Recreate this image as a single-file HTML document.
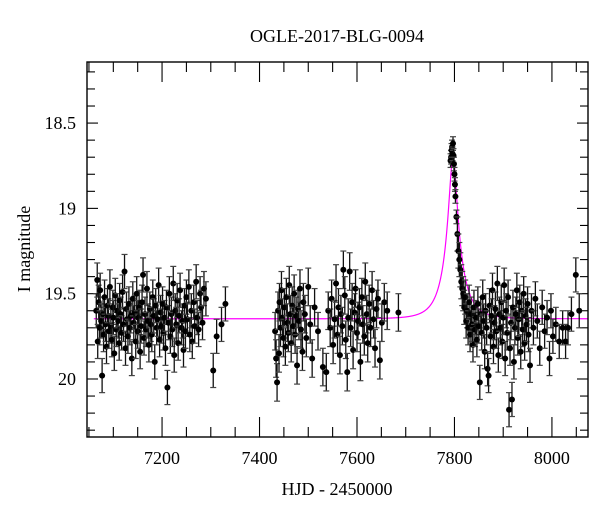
<!DOCTYPE html>
<html><head><meta charset="utf-8"><style>
html,body{margin:0;padding:0;background:#fff;}
svg{display:block;font-family:"Liberation Serif",serif;}
</style></head><body>
<svg id="chart" width="600" height="512" viewBox="0 0 600 512" xmlns="http://www.w3.org/2000/svg">
<text x="337" y="42" text-anchor="middle" font-size="18">OGLE-2017-BLG-0094</text>
<text x="337" y="495" text-anchor="middle" font-size="18">HJD - 2450000</text>
<text transform="translate(30,249) rotate(-90)" text-anchor="middle" font-size="18">I magnitude</text>
<g id="axes"></g>
<g id="model"></g>
<g id="pts"></g>
<rect x="87" y="62" width="501" height="375" fill="none" stroke="#000" stroke-width="1.4"/>
</svg>
<script>
const xTicks=[7200,7400,7600,7800,8000];
const yTicks=[18.5,19,19.5,20];
const yTickLabels=["18.5","19","19.5","20"];
const times1=[7065,7067,7068,7070,7072,7073,7075,7077,7079,7080,7082,7084,7086,7088,7090,7091,7093,7095,7097,7099,7100,7102,7104,7106,7108,7110,7112,7113,7115,7117,7119,7121,7123,7125,7127,7128,7130,7132,7134,7136,7138,7140,7142,7144,7146,7148,7150,7151,7153,7155,7157,7159,7161,7163,7165,7167,7169,7171,7173,7175,7177,7179,7181,7183,7185,7187,7189,7191,7193,7195,7197,7199,7201,7203,7205,7207,7209,7211,7213,7215,7217,7219,7221,7223,7225,7227,7229,7231,7233,7235,7237,7240,7242,7244,7246,7248,7250,7252,7255,7257,7260,7262,7265,7267,7270,7272,7275,7278,7280,7283,7286,7290,7305,7312,7322,7330];
const mags1=[19.60,19.42,19.78,19.55,19.70,19.48,19.66,19.98,19.62,19.74,19.52,19.68,19.81,19.57,19.63,19.72,19.46,19.69,19.77,19.58,19.64,19.85,19.51,19.71,19.60,19.66,19.79,19.54,19.62,19.73,19.49,19.68,19.37,19.82,19.59,19.65,19.75,19.56,19.70,19.63,19.88,19.53,19.67,19.61,19.78,19.50,19.72,19.64,19.58,19.84,19.69,19.55,19.39,19.76,19.62,19.71,19.47,19.66,19.80,19.59,19.68,19.74,19.52,19.63,19.90,19.57,19.70,19.65,19.45,19.77,19.61,19.69,19.56,19.73,19.64,19.82,19.58,20.05,19.67,19.50,19.75,19.62,19.71,19.44,19.86,19.60,19.68,19.54,19.79,19.63,19.48,19.70,19.66,19.83,19.57,19.72,19.52,19.65,19.46,19.74,19.60,19.78,19.55,19.69,19.43,19.64,19.71,19.50,19.58,19.67,19.47,19.53,19.95,19.75,19.68,19.56];
const times2=[7432,7434,7436,7438,7440,7441,7443,7445,7447,7449,7451,7453,7455,7457,7459,7461,7463,7465,7467,7469,7471,7473,7475,7477,7479,7481,7483,7485,7488,7490,7493,7496,7500,7504,7508,7513,7520,7530,7537,7541,7545,7548,7551,7554,7557,7560,7562,7565,7567,7570,7572,7575,7577,7580,7582,7585,7587,7590,7592,7595,7597,7600,7602,7605,7607,7610,7612,7615,7617,7620,7622,7625,7628,7631,7634,7637,7640,7643,7647,7651,7656,7662,7685];
const mags2=[19.72,19.88,20.02,19.60,19.85,19.55,19.70,19.48,19.64,19.76,19.58,19.81,19.52,19.67,19.73,19.45,19.62,19.79,19.57,19.69,19.50,19.74,19.63,19.92,19.59,19.66,19.47,19.71,19.84,19.55,19.62,19.76,19.46,19.68,19.88,19.58,19.72,19.93,19.96,19.60,19.70,19.53,19.80,19.65,19.44,19.74,19.58,19.86,19.62,19.69,19.36,19.51,19.77,19.96,19.64,19.37,19.70,19.55,19.83,19.61,19.47,19.73,19.66,19.58,19.90,19.52,19.68,19.75,19.43,19.62,19.79,19.56,19.70,19.48,19.65,19.82,19.59,19.53,19.89,19.67,19.55,19.60,19.61];
const times3=[7792,7793,7794,7795,7796,7797,7798,7799,7800,7801,7802,7804,7806,7808,7810,7812,7814,7816,7818,7820,7822,7824,7826,7828,7830,7832,7834,7836,7838,7840,7842,7844,7846,7848,7850,7852,7854,7856,7858,7860,7862,7864,7866,7868,7870,7872,7874,7876,7878,7880,7882,7884,7886,7888,7890,7892,7894,7896,7898,7900,7902,7904,7906,7908,7910,7912,7914,7916,7918,7920,7922,7924,7926,7928,7930,7932,7934,7936,7938,7940,7942,7944,7946,7948,7950,7952,7955,7958,7962,7966,7970,7975,7980,7985,7990,7995,7998,8002,8008,8015,8022,8028,8033,8040,8049,8056];
const mags3=[18.72,18.70,18.66,18.64,18.68,18.62,18.69,18.74,18.80,18.86,18.93,19.05,19.15,19.25,19.30,19.36,19.43,19.47,19.50,19.58,19.52,19.66,19.60,19.70,19.55,19.74,19.62,19.68,19.80,19.58,19.71,19.64,19.77,19.56,19.69,20.02,19.62,19.73,19.52,19.66,19.84,19.60,19.70,19.94,19.98,19.57,19.75,19.63,19.48,19.81,19.67,19.59,19.72,19.44,19.86,19.62,19.70,19.55,19.78,19.64,19.45,19.88,19.60,19.73,19.52,20.18,19.82,19.67,20.12,19.58,19.90,19.70,19.62,19.48,19.76,19.65,19.55,19.84,19.60,19.71,19.50,19.79,19.63,19.68,19.56,19.74,19.92,19.60,19.70,19.53,19.66,19.82,19.58,19.72,19.64,19.88,19.60,19.75,19.68,19.78,19.70,19.78,19.70,19.62,19.39,19.60];
const modelParams={t0:7797,u0:0.22,tE:37,fs:0.38,base:19.647};

const NS="http://www.w3.org/2000/svg";
const X0=87,X1=588,Y0=62,Y1=437,XMIN=7046,XMAX=8074,YMIN=18.142,YMAX=20.34;
function sx(t){return X0+(t-XMIN)/(XMAX-XMIN)*(X1-X0);}
function sy(m){return Y0+(m-YMIN)/(YMAX-YMIN)*(Y1-Y0);}
function mk(tag,attrs,parent){const e=document.createElementNS(NS,tag);for(const k in attrs)e.setAttribute(k,attrs[k]);parent.appendChild(e);return e;}
const axes=document.getElementById('axes');
for(let t=7050;t<=8070;t+=50){
  const major=t%200===0;const L=major?20:10;const x=sx(t);
  const a=mk('line',{x1:x,x2:x,y1:Y1,y2:Y1-L,stroke:'#000','stroke-width':1.1},axes);
  
  
  const b=mk('line',{x1:x,x2:x,y1:Y0,y2:Y0+L,stroke:'#000','stroke-width':1.1},axes);
  
  
}
xTicks.forEach(t=>{
  const tx=mk('text',{x:sx(t),y:464,'text-anchor':'middle','font-size':18},axes);
  tx.textContent=String(t);
  
  
});
for(let i=182;i<=234;i++){
  const m=i/10; if(m<YMIN||m>YMAX) continue;
  const major=Math.abs(m*2-Math.round(m*2))<1e-6;const L=major?11:8;const y=sy(m);
  const a=mk('line',{x1:X0,x2:X0+L,y1:y,y2:y,stroke:'#000','stroke-width':1.1},axes);
  
  
  const b=mk('line',{x1:X1,x2:X1-L,y1:y,y2:y,stroke:'#000','stroke-width':1.1},axes);
  
  
}
yTicks.forEach((m,i)=>{
  const tx=mk('text',{x:76,y:sy(m)+6,'text-anchor':'end','font-size':18},axes);
  tx.textContent=yTickLabels[i];
  
  
});
function modelMag(t){const p=modelParams;const tau=(t-p.t0)/p.tE;const u=Math.sqrt(p.u0*p.u0+tau*tau);
  const A=(u*u+2)/(u*Math.sqrt(u*u+4));return p.base-2.5*Math.log10(p.fs*A+1-p.fs);}
let d='';for(let t=7060;t<=8074;t+=0.5){d+=(d?'L':'M')+sx(t).toFixed(2)+','+sy(modelMag(t)).toFixed(2);}
const path=mk('path',{d:d,fill:'none',stroke:'#ff00ff','stroke-width':1.2},document.getElementById('model'));


const pts=document.getElementById('pts');
function drawSeason(ts,ms,err){
  for(let i=0;i<Math.min(ts.length,ms.length);i++){
    const x=sx(ts[i]),y=sy(ms[i]);const e=(ms[i]<19.1?0.04:err);
    const ya=sy(ms[i]-e),yb=sy(ms[i]+e);
    const g=mk('g',{},pts);
    
    
    mk('line',{x1:x,x2:x,y1:ya,y2:yb,stroke:'#111','stroke-width':1.3},g);
    mk('line',{x1:x-3,x2:x+3,y1:ya,y2:ya,stroke:'#444','stroke-width':1.2},g);
    mk('line',{x1:x-3,x2:x+3,y1:yb,y2:yb,stroke:'#444','stroke-width':1.2},g);
    mk('circle',{cx:x,cy:y,r:3,fill:'#000'},g);
  }
}
drawSeason(times1,mags1,0.1);
drawSeason(times2,mags2,0.11);
drawSeason(times3,mags3,0.1);
</script>
</body></html>
